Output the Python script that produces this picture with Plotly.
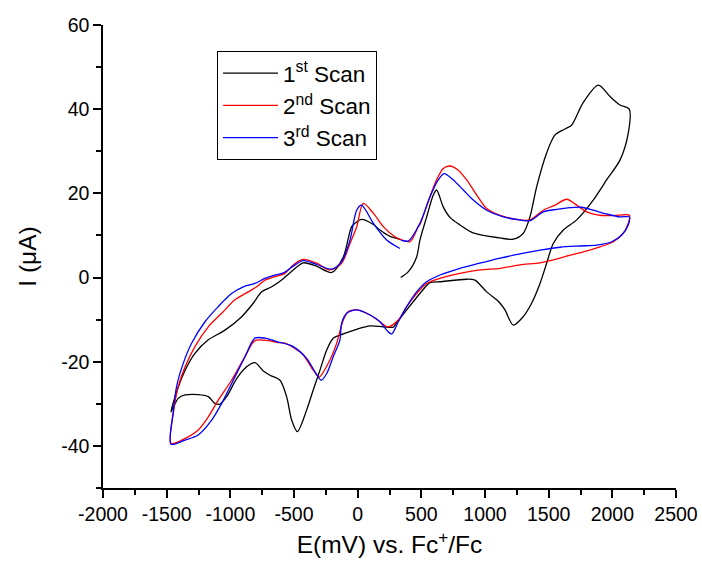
import plotly.graph_objects as go

# ---------------- data ----------------
scan1_E = [338, 398, 463, 489, 542, 594, 620, 672, 725, 803, 906, 1118, 1222, 1300, 1353, 1406, 1484, 1550,
           1628, 1680, 1770, 1890, 1982, 2060, 2133,
           2125, 2060, 1955, 1850, 1720, 1615, 1536, 1484, 1432, 1366, 1300, 1222, 1157, 1118, 1092, 1013,
           921, 856, 646, 568, 489, 385, 293, 280, 201, 97, -8, -113, -192, -243, -296, -349, -401, -474,
           -518, -558, -610, -689, -741, -807, -872, -950, -1029, -1082, -1121, -1173, -1252, -1355,
           -1409, -1466,
           -1409, -1355, -1278, -1173, -1042, -911, -820, -754, -675, -597, -506, -427, -322, -204,
           -113, -47, -8, 31, 123, 175, 254, 306, 340]
scan1_I = [0.0, 1.4, 4.9, 8.9, 14.4, 19.6, 20.8, 16.8, 14.3, 12.5, 10.6, 9.4, 9.1, 10.5, 14.4, 21.6, 29.6, 33.9,
           35.3, 36.2, 41.5, 45.7, 43.0, 41.0, 40.0,
           34.3, 27.9, 23.2, 18.4, 13.7, 11.3, 8.1, 3.4, -1.4, -6.1, -9.3, -11.3, -7.7, -6.1, -5.3, -3.4,
           -0.6, -0.4, -1.0, -1.2, -3.8, -7.7, -11.3, -11.8, -11.7, -11.5, -12.3, -13.4, -14.4, -17.2, -22.0,
           -26.7, -31.5, -36.6,
           -33.9, -28.3, -24.4, -23.2, -22.2, -20.2, -21.2, -24.0, -28.3, -30.1, -29.9, -28.3, -27.8, -27.9,
           -28.7, -31.9,
           -26.0, -22.0, -18.0, -14.8, -12.5, -9.3, -6.1, -3.4, -2.2, -0.6, 1.8, 3.5, 2.7, 1.2,
           4.9, 12.1, 13.2, 13.8, 12.6, 11.3, 9.8, 9.3, 9.0]

scan2_E = [340, 411, 476, 489, 568, 620, 672, 725, 790, 856, 935, 1013, 1118, 1249, 1353, 1458, 1550, 1641,
           1720, 1799, 1903, 2008, 2135,
           2125, 2086, 2008, 1903, 1772, 1641, 1536, 1432, 1275, 1118, 960, 803, 646, 542, 463, 385, 319,
           240, 175, 97, -8, -74, -113, -165, -218, -302, -349, -427, -506, -571, -636, -702, -807, -885,
           -990, -1095, -1173, -1252, -1355, -1466,
           -1448, -1409, -1355, -1278, -1173, -1068, -964, -859, -793, -728, -650, -571, -506, -427, -322,
           -218, -126, -60, -8, 44, 123, 201, 293, 340]
scan2_I = [9.0, 8.5, 12.1, 12.6, 19.2, 23.2, 25.9, 26.5, 25.5, 23.2, 19.6, 16.4, 14.8, 13.8, 13.7, 16.0, 17.2, 18.6,
           17.2, 15.6, 14.8, 14.7, 14.8,
           12.9, 10.5, 8.5, 7.3, 6.1, 5.1, 4.2, 3.5, 3.0, 2.2, 1.8, 1.0, -0.2, -1.4, -3.8, -6.9, -10.1,
           -11.7, -10.5, -8.9, -7.7, -8.1, -10.1, -15.6, -19.6, -23.6, -22.0, -18.4, -16.6, -15.6, -15.4,
           -15.0, -15.0, -18.8, -24.4, -29.1, -33.1, -36.2, -38.2, -39.4,
           -32.3, -25.9, -21.2, -16.4, -11.7, -8.5, -5.3, -3.4, -2.2, -0.6, 0.2, 1.0, 3.0, 4.3, 3.4,
           1.8, 3.4, 8.1, 12.0, 17.6, 15.3, 12.1, 9.7, 9.0]

scan3_E = [340, 398, 489, 568, 633, 678, 751, 830, 908, 1013, 1144, 1275, 1353, 1458, 1563, 1667, 1759, 1850,
           1955, 2060, 2133,
           2125, 2073, 1995, 1877, 1746, 1589, 1432, 1275, 1118, 960, 803, 646, 542, 463, 385, 319, 267, 228,
           175, 97, -8, -86, -126, -139, -192, -243, -286, -335, -401, -506, -636, -728, -807, -885, -964,
           -1068, -1147, -1252, -1355, -1466,
           -1450, -1422, -1370, -1304, -1199, -1095, -990, -898, -807, -728, -650, -584, -506, -427, -322,
           -204, -126, -60, -8, 31, 123, 228, 332]
scan3_I = [8.9, 8.7, 12.9, 19.2, 23.2, 24.7, 23.2, 20.8, 18.4, 16.0, 14.4, 13.7, 13.5, 15.6, 16.2, 16.6, 16.7, 16.0,
           15.1, 14.4, 14.4,
           12.5, 10.1, 8.5, 7.7, 7.5, 7.2, 6.5, 5.6, 4.6, 3.4, 2.2, 0.6, -1.0, -3.4, -6.9, -10.5, -13.4, -12.5,
           -10.5, -8.9, -7.7, -8.5, -10.9, -14.8, -18.8, -22.8, -24.4, -22.4, -19.2, -16.4, -15.2, -14.4,
           -14.4, -18.8, -23.6, -29.9, -33.9, -37.4, -38.6, -39.6,
           -32.3, -25.9, -20.4, -15.6, -10.5, -6.9, -3.8, -2.2, -1.4, -0.2, 0.6, 1.1, 2.7, 4.0, 3.1,
           2.0, 3.8, 8.9, 16.0, 17.2, 12.9, 8.9, 6.9]

series_names = ["1<sup>st</sup> Scan", "2<sup>nd</sup> Scan", "3<sup>rd</sup> Scan"]
series_colors = ["#000000", "#ff0000", "#0000ff"]

x_tickvals = [-2000, -1500, -1000, -500, 0, 500, 1000, 1500, 2000, 2500]
x_ticktext = ["-2000", "-1500", "-1000", "-500", "0", "500", "1000", "1500", "2000", "2500"]
y_tickvals = [-40, -20, 0, 20, 40, 60]
y_ticktext = ["-40", "-20", "0", "20", "40", "60"]

FONT = "Arial, 'Liberation Sans', sans-serif"

fig = go.Figure()
for i, (E, I) in enumerate([(scan1_E, scan1_I), (scan2_E, scan2_I), (scan3_E, scan3_I)]):
    fig.add_trace(go.Scatter(
        x=E, y=I, mode="lines", name=series_names[i], legendgroup=str(i),
        line=dict(color=series_colors[i], width=1.3, shape="spline", smoothing=0.8),
    ))

axis_common = dict(
    showline=True, linecolor="black", linewidth=1.5, mirror=False,
    ticks="outside", ticklen=8, tickwidth=1.5, tickcolor="black",
    showgrid=False, zeroline=False, automargin=False,
    tickfont=dict(family=FONT, size=19.5, color="black"),
)

fig.update_layout(
    width=702, height=566,
    margin=dict(l=103, r=26, t=25, b=78),
    paper_bgcolor="white", plot_bgcolor="white",
    font=dict(family=FONT, color="black"),
    showlegend=True,
    legend=dict(
        x=0.199, y=0.944, xanchor="left", yanchor="top",
        bordercolor="black", borderwidth=1, bgcolor="white",
        font=dict(family=FONT, size=22.5, color="black"),
        tracegroupgap=0, itemwidth=55,
    ),
    xaxis=dict(
        range=[-2000, 2500], tickvals=x_tickvals, ticktext=x_ticktext,
        minor=dict(ticks="outside", ticklen=5, tickwidth=1.5, tickcolor="black", dtick=250, tick0=-2000),
        title=dict(text="E(mV) vs. Fc<sup>+</sup>/Fc", font=dict(family=FONT, size=24.5, color="black"), standoff=12),
        **axis_common,
    ),
    yaxis=dict(
        range=[-50, 60], tickvals=y_tickvals, ticktext=y_ticktext,
        minor=dict(ticks="outside", ticklen=5, tickwidth=1.5, tickcolor="black", dtick=10, tick0=0),
        title=dict(text="I (μA)", font=dict(family=FONT, size=24.5, color="black"), standoff=18),
        **axis_common,
    ),
)

fig.write_html("out.html")
